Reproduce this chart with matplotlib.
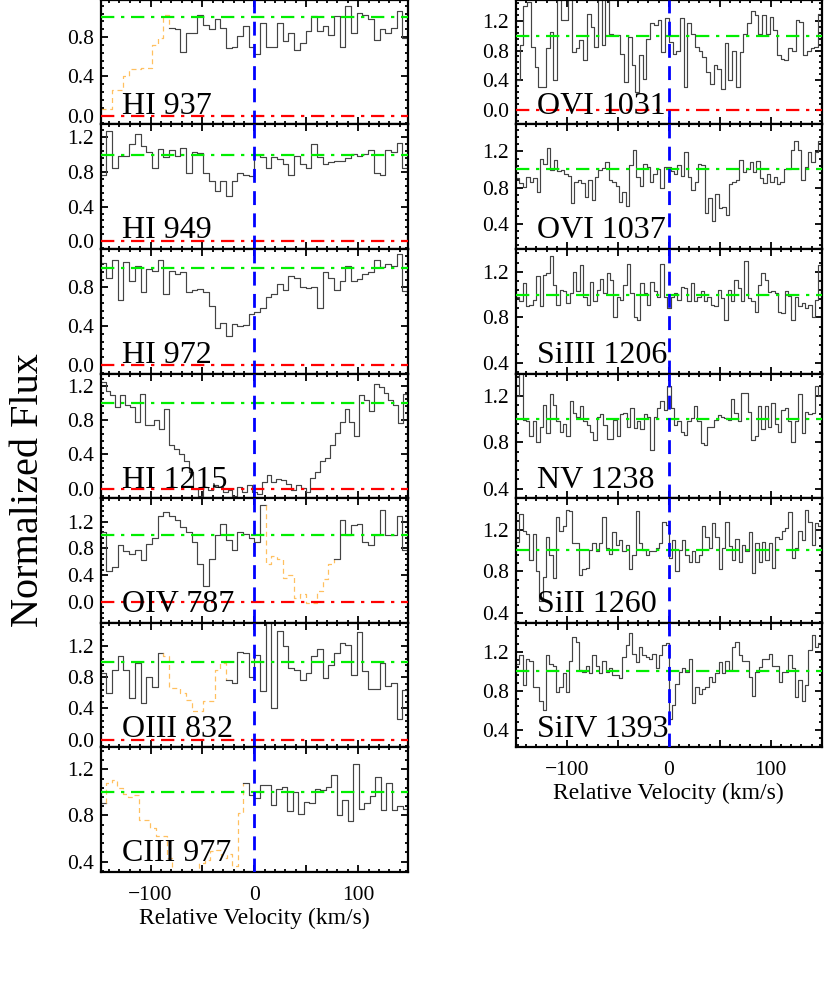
import numpy as np
import matplotlib
matplotlib.use("Agg")
import matplotlib.pyplot as plt
from matplotlib.ticker import MultipleLocator, FuncFormatter

plt.rcParams['font.family'] = ['Liberation Serif', 'DejaVu Serif']
plt.rcParams['mathtext.fontset'] = 'stix'

# ---- left column (FUSE + Lya), flux per velocity bin ----
hi937 = [0.07, 0.07, 0.26, 0.26, 0.40, 0.47, 0.47, 0.48, 0.48, 0.72, 0.79, 1.03,
         0.89, 0.88, 0.65, 0.84, 0.84, 1.03, 0.92, 0.88, 0.98, 0.89, 0.69, 0.70,
         0.81, 0.91, 0.70, 0.63, 0.94, 0.70, 0.70, 0.94, 0.76, 0.84, 0.67, 0.74,
         0.86, 1.01, 0.86, 0.91, 0.82, 1.01, 0.70, 1.12, 0.84, 1.05, 1.03, 0.98,
         0.77, 0.88, 0.84, 0.89, 1.07, 0.79]
hi949 = [0.77, 1.27, 0.85, 0.99, 0.99, 1.12, 1.24, 1.10, 1.03, 0.85, 1.06, 0.97,
         1.05, 0.99, 1.08, 0.79, 1.03, 1.02, 0.79, 0.70, 0.58, 0.70, 0.52, 0.70,
         0.79, 0.77, 0.75, 1.00, 0.97, 0.85, 0.97, 0.95, 0.89, 0.77, 0.99, 0.89,
         0.85, 1.12, 0.97, 0.89, 0.91, 0.93, 0.93, 0.96, 1.01, 0.99, 1.01, 1.05,
         0.79, 0.77, 1.05, 1.03, 1.14, 0.85]
hi972 = [1.05, 0.90, 1.08, 0.67, 1.06, 0.87, 1.02, 0.75, 0.99, 0.97, 1.08, 0.73,
         0.97, 0.94, 0.96, 0.75, 0.77, 0.78, 0.75, 0.61, 0.38, 0.43, 0.30, 0.42,
         0.40, 0.41, 0.52, 0.55, 0.59, 0.70, 0.73, 0.83, 0.77, 0.92, 0.90, 0.80,
         0.79, 0.80, 0.59, 0.96, 0.90, 0.77, 0.87, 1.02, 0.87, 0.89, 0.94, 0.96,
         1.08, 1.01, 1.04, 1.02, 1.14, 0.76]
hi1215 = [1.24, 1.14, 1.09, 0.95, 1.09, 0.97, 0.95, 0.78, 1.10, 0.74, 0.74, 0.80,
          0.69, 0.93, 0.51, 0.46, 0.40, 0.32, 0.19, 0.00, -0.08, 0.02, -0.02, 0.04,
          0.02, -0.04, -0.02, -0.08, 0.02, -0.04, 0.04, -0.04, -0.06, 0.08, 0.16,
          0.08, 0.11, 0.10, 0.06, -0.02, 0.04, 0.01, -0.04, 0.13, 0.19, 0.32, 0.36,
          0.51, 0.65, 0.78, 0.93, 0.78, 0.61, 1.09, 1.03, 0.91, 1.22, 1.18, 1.12,
          1.03, 0.97, 0.76, 1.10]
oiv787 = [1.05, 0.47, 0.52, 0.85, 0.76, 0.72, 0.77, 0.63, 0.87, 0.95, 1.28, 1.34,
          1.28, 1.22, 1.12, 1.05, 0.90, 0.57, 0.24, 0.64, 1.00, 1.16, 0.92, 0.77,
          1.05, 1.02, 0.95, 0.90, 1.45, 0.57, 0.69, 0.64, 0.36, 0.40, 0.06, 0.12,
          -0.02, -0.02, 0.16, 0.34, 0.57, 0.64, 1.23, 1.00, 1.15, 1.17, 0.90, 0.85,
          1.00, 1.38, 1.00, 1.00, 1.28, 0.77]
oiii832 = [0.85, 0.60, 0.90, 1.07, 0.90, 0.54, 0.98, 0.47, 0.81, 0.68, 1.11,
           1.08, 0.66, 0.66, 0.60, 0.51, 0.37, 0.37, 0.49, 0.49, 0.90, 0.99,
           0.77, 0.73, 1.12, 1.11, 0.81, 1.09, 0.63, 1.52, 0.41, 1.39, 1.20, 0.92,
           0.90, 0.77, 0.85, 1.07, 1.16, 0.79, 0.96, 1.11, 1.24, 1.21, 0.83, 1.38,
           0.88, 0.65, 0.65, 0.98, 0.69, 0.73, 0.27, 0.64]
ciii977 = [0.91, 1.08, 1.11, 1.04, 0.99, 0.96, 0.98, 0.76, 0.76, 0.69, 0.62, 0.62,
           0.43, 0.25, 0.20, 0.22, 0.25, 0.20, 0.39, 0.41, 0.49, 0.50, 0.43, 0.47,
           0.36, 0.82, 1.08, 0.98, 0.95, 1.06, 1.06, 0.89, 1.03, 1.05, 0.84, 1.00,
           0.81, 0.92, 0.91, 1.03, 1.02, 1.05, 1.15, 0.80, 0.93, 0.75, 1.25, 0.86,
           0.91, 0.97, 1.13, 0.85, 1.08, 0.85, 0.88, 0.86]

# ---- right column (COS) ----
ovi1031 = [0.40, 0.87, 1.40, 1.46, 0.85, 0.58, 0.30, 0.30, 0.83, 1.05, 0.40, 1.55,
           1.21, 1.21, 1.55, 0.78, 0.83, 0.94, 0.67, 1.30, 1.12, 0.85, 1.55, 0.87,
           1.55, 1.03, 1.01, 1.01, 0.76, 0.37, 0.99, 0.60, 0.24, 0.74, 0.42, 0.96,
           1.17, 1.15, 1.21, 0.78, 1.24, 0.92, 0.76, 0.80, 1.24, 0.30, 1.17, 1.03,
           0.85, 0.80, 0.71, 0.51, 0.35, 0.60, 0.55, 0.28, 0.90, 0.40, 0.80, 0.31,
           0.78, 1.03, 1.17, 1.33, 1.28, 1.03, 1.28, 1.03, 1.26, 1.08, 0.74, 0.69,
           0.67, 0.83, 0.80, 1.21, 1.19, 0.74, 0.80, 0.83, 0.85, 1.30]
ovi1037 = [0.90, 0.85, 0.81, 0.92, 0.86, 0.90, 0.75, 1.12, 1.06, 1.24, 0.99, 1.10,
           0.98, 0.99, 0.95, 0.93, 0.63, 0.86, 0.88, 0.85, 0.69, 0.88, 0.66, 0.92,
           0.99, 1.02, 1.08, 0.88, 0.86, 0.82, 0.64, 0.75, 0.59, 1.05, 1.22, 0.92,
           0.82, 1.06, 1.03, 0.86, 0.95, 1.01, 0.79, 1.03, 1.03, 0.98, 0.95, 1.05,
           0.93, 1.19, 0.92, 0.77, 0.86, 1.06, 1.05, 0.52, 0.68, 0.43, 0.73, 0.57,
           0.58, 0.49, 0.84, 0.86, 0.88, 1.10, 0.97, 1.00, 1.08, 0.97, 1.09, 0.90,
           0.85, 0.95, 0.86, 0.92, 0.84, 0.86, 1.01, 1.01, 1.21, 1.31, 1.21, 0.88,
           1.03, 1.19, 1.08, 1.19, 1.32]
siiii1206 = [0.98, 0.94, 1.10, 0.90, 0.91, 0.95, 1.16, 0.90, 1.17, 1.19, 1.34, 1.08,
             0.91, 1.04, 1.03, 0.93, 1.01, 1.20, 1.03, 1.26, 0.98, 0.91, 1.11, 0.94,
             1.04, 1.14, 1.01, 1.19, 1.13, 0.80, 0.98, 0.95, 1.08, 1.27, 1.01, 0.80,
             0.78, 1.10, 1.01, 0.91, 1.11, 1.03, 0.98, 1.27, 0.98, 0.88, 0.98, 1.01,
             0.95, 1.07, 1.06, 0.94, 1.10, 0.94, 0.98, 1.03, 0.94, 0.98, 0.91, 0.90,
             1.04, 0.97, 0.78, 1.04, 0.94, 1.13, 1.06, 0.94, 1.29, 0.97, 0.94, 0.85,
             1.08, 1.19, 1.13, 1.02, 1.03, 1.01, 0.85, 0.84, 1.03, 0.99, 0.78, 0.98,
             0.90, 0.93, 0.88, 0.91, 0.80, 0.95, 1.26]
nv1238 = [1.20, 1.42, 0.99, 0.98, 0.85, 0.98, 0.80, 0.93, 1.12, 0.88, 1.21, 1.12,
          0.98, 0.89, 0.96, 0.85, 1.15, 1.05, 1.02, 1.11, 0.98, 0.95, 0.89, 0.82,
          1.02, 1.04, 0.95, 0.83, 0.83, 0.99, 0.85, 1.04, 1.05, 0.93, 1.09, 0.92,
          0.98, 0.91, 1.04, 1.02, 0.73, 1.02, 1.09, 1.15, 1.08, 1.28, 1.09, 0.95,
          0.98, 0.89, 0.86, 0.98, 1.01, 1.11, 0.98, 0.79, 0.78, 0.93, 0.93, 0.99,
          1.03, 1.02, 1.01, 0.99, 1.17, 1.05, 0.98, 1.22, 1.22, 1.06, 0.82, 0.85,
          1.11, 0.91, 1.11, 0.93, 1.14, 0.96, 0.89, 1.08, 1.09, 0.98, 0.80, 0.98,
          1.21, 0.88, 1.06, 1.04, 1.05, 1.28, 1.20]
siii1260 = [1.08, 1.35, 1.19, 1.16, 0.91, 1.16, 0.80, 0.52, 0.75, 1.13, 0.96, 0.74,
            1.32, 1.19, 1.23, 1.39, 1.38, 1.07, 1.07, 0.77, 0.82, 0.83, 1.00, 1.07,
            0.99, 1.07, 1.32, 1.02, 0.97, 1.18, 1.05, 1.10, 0.99, 1.05, 0.82, 0.96,
            1.38, 1.07, 1.00, 0.96, 0.99, 0.99, 1.02, 1.07, 1.27, 1.24, 0.93, 1.10,
            0.80, 1.00, 1.10, 0.96, 0.89, 0.99, 0.89, 0.96, 1.23, 1.13, 1.02, 1.26,
            1.13, 0.82, 1.02, 1.27, 1.04, 0.91, 1.11, 0.89, 1.05, 0.99, 1.18, 0.78,
            1.07, 0.89, 1.08, 0.91, 1.07, 0.83, 1.13, 1.11, 1.19, 1.21, 1.37, 0.93,
            1.02, 1.19, 1.10, 1.39, 1.27, 1.05, 1.26, 1.23]
siiv1393 = [1.08, 1.17, 0.86, 1.13, 1.11, 0.84, 0.84, 0.70, 0.60, 1.17, 1.08, 1.06,
            0.79, 0.84, 0.98, 0.79, 1.11, 1.35, 1.30, 1.01, 0.99, 1.06, 0.98, 1.17,
            1.06, 0.98, 1.11, 0.99, 1.03, 0.96, 0.96, 0.93, 1.15, 1.27, 1.39, 1.18,
            1.10, 1.25, 1.17, 1.15, 1.13, 1.18, 1.03, 1.17, 1.27, 1.29, 0.51, 0.65,
            0.87, 0.99, 1.03, 0.99, 1.13, 0.68, 0.84, 0.77, 0.82, 0.84, 0.94, 0.89,
            0.98, 1.10, 0.98, 1.11, 1.01, 1.25, 1.30, 1.17, 1.11, 1.11, 0.94, 0.75,
            0.99, 1.05, 1.13, 1.13, 1.18, 1.06, 1.06, 0.89, 0.99, 0.99, 1.17, 1.03,
            0.74, 0.91, 0.70, 0.86, 1.22, 1.37, 1.25, 1.29]

left_labels = ["HI 937", "HI 949", "HI 972", "HI 1215", "OIV 787", "OIII 832", "CIII 977"]
left_flux = [hi937, hi949, hi972, hi1215, oiv787, oiii832, ciii977]
left_ylims = [(-0.09, 1.18), (-0.09, 1.35), (-0.09, 1.195), (-0.11, 1.34),
              (-0.31, 1.55), (-0.10, 1.50), (0.31, 1.39)]
# velocity ranges of blended (contaminated) pixels, drawn dashed orange
left_blends = [(-149, -82), None, None, None, (11, 77), (-88, -27), (-143, -9)]

right_labels = ["OVI 1031", "OVI 1037", "SiIII 1206", "NV 1238", "SiII 1260", "SiIV 1393"]
right_flux = [ovi1031, ovi1037, siiii1206, nv1238, siii1260, siiv1393]
right_ylims = [(-0.20, 1.49), (0.12, 1.50), (0.31, 1.40), (0.32, 1.39),
               (0.31, 1.50), (0.22, 1.50)]
right_blends = [None] * 6

left_vrange = (-148, 148)
right_vrange = (-150, 150)


def stair_xy(vals, edges, i0, i1):
    # step outline for bins i0..i1-1, with vertical joins to neighbours
    xs, ys = [], []
    if i0 > 0:
        xs.append(edges[i0])
        ys.append(vals[i0 - 1])
    for i in range(i0, i1):
        xs += [edges[i], edges[i + 1]]
        ys += [vals[i], vals[i]]
    if i1 < len(vals):
        xs.append(edges[i1])
        ys.append(vals[i1])
    return xs, ys


def runs(mask):
    out = []
    start = 0
    for i in range(1, len(mask) + 1):
        if i == len(mask) or mask[i] != mask[start]:
            out.append((start, i, mask[start]))
            start = i
    return out


def draw_panel(ax, flux, label, ylim, blend, vrange, bottom):
    flux = np.array(flux)
    edges = np.linspace(vrange[0], vrange[1], len(flux) + 1)
    centers = 0.5 * (edges[1:] + edges[:-1])
    if blend is None:
        mask = np.zeros(len(flux), dtype=bool)
    else:
        mask = (centers >= blend[0]) & (centers <= blend[1])
    for i0, i1, bl in runs(mask):
        if bl:
            xs, ys = stair_xy(flux, edges, i0, i1)
            ax.plot(xs, ys, color='#ffc060', lw=0.9, ls=(0, (4, 3)), zorder=2)
        else:
            xs = np.repeat(edges[i0:i1 + 1], 2)[1:-1]
            ys = np.repeat(flux[i0:i1], 2)
            ax.plot(xs, ys, color='#444444', lw=0.85, zorder=2)

    ax.axhline(1.0, color='#00ee00', lw=1.6, ls=(0, (6, 3, 1.5, 3)), zorder=3)
    ax.axhline(0.0, color='#ff0000', lw=1.6, ls=(0, (6, 3, 1.5, 3)), zorder=3)
    ax.axvline(0.0, color='#0000ff', lw=2.0, ls=(0, (5, 3)), zorder=4)

    ax.set_xlim(vrange)
    ax.set_ylim(ylim)
    ax.text(0.07, 0.085, label, transform=ax.transAxes, fontsize=23,
            va='baseline', ha='left', zorder=5)

    ax.xaxis.set_major_locator(MultipleLocator(50))
    ax.xaxis.set_minor_locator(MultipleLocator(10))
    ax.yaxis.set_major_locator(MultipleLocator(0.4))
    ax.yaxis.set_minor_locator(MultipleLocator(0.08))
    ax.yaxis.set_major_formatter(FuncFormatter(lambda y, p: "%.1f" % (abs(y) if abs(y) < 1e-9 else y)))
    ax.xaxis.set_major_formatter(FuncFormatter(
        lambda x, p: ("\u2212%d" % -x if x < 0 else "%d" % x) if abs(x) % 100 < 1e-6 else ""))
    ax.tick_params(which='both', direction='in', top=True, right=True, width=1.3)
    ax.tick_params(which='major', length=5, labelsize=15.5, pad=5)
    ax.tick_params(which='minor', length=2.5)
    ax.tick_params(axis='x', which='major', pad=10)
    for sp in ax.spines.values():
        sp.set_linewidth(1.6)
    if bottom:
        ax.set_xlabel("Relative Velocity (km/s)", fontsize=17, labelpad=2)
    else:
        ax.tick_params(axis='x', labelbottom=False)


W, H = 830, 997
fig = plt.figure(figsize=(W / 100, H / 100), dpi=100)

panel_h = 124.6
left_x0, left_x1 = 100.7, 408.0
right_x0, right_x1 = 516.0, 821.7
left_bottom = 872.0
right_bottom = 747.3

for k in range(len(left_flux)):
    top_px = left_bottom - (len(left_flux) - k) * panel_h
    ax = fig.add_axes([left_x0 / W, 1 - (top_px + panel_h) / H,
                       (left_x1 - left_x0) / W, panel_h / H])
    draw_panel(ax, left_flux[k], left_labels[k], left_ylims[k], left_blends[k],
               left_vrange, k == len(left_flux) - 1)

for k in range(len(right_flux)):
    top_px = right_bottom - (len(right_flux) - k) * panel_h
    ax = fig.add_axes([right_x0 / W, 1 - (top_px + panel_h) / H,
                       (right_x1 - right_x0) / W, panel_h / H])
    draw_panel(ax, right_flux[k], right_labels[k], right_ylims[k], right_blends[k],
               right_vrange, k == len(right_flux) - 1)

fig.text(29 / W, 1 - 490 / H, "Normalized Flux", rotation=90, fontsize=29,
         ha='center', va='center')

fig.savefig("out.png", dpi=100)
